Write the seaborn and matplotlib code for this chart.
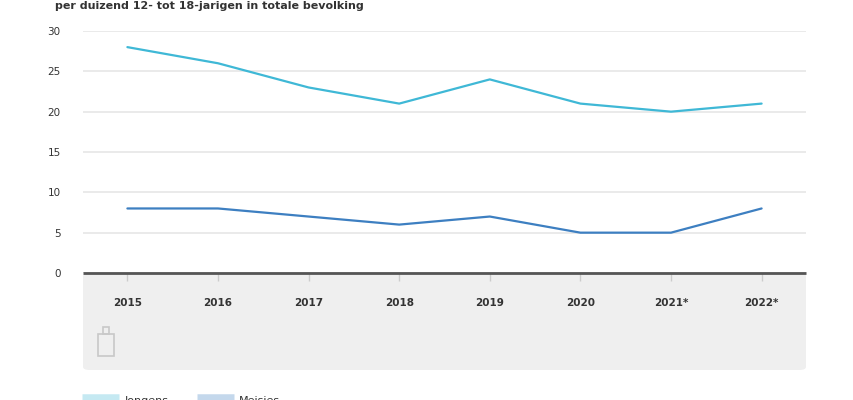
import matplotlib
matplotlib.use("Agg")
import matplotlib.pyplot as plt
from matplotlib.patches import FancyBboxPatch, Rectangle
from matplotlib.lines import Line2D
import seaborn as sns
import pandas as pd

years = ["2015", "2016", "2017", "2018", "2019", "2020", "2021*", "2022*"]
jongens = [28, 26, 23, 21, 24, 21, 20, 21]
meisjes = [8, 8, 7, 6, 7, 5, 5, 8]
series_names = ["Jongens", "Meisjes"]
title = "per duizend 12- tot 18-jarigen in totale bevolking"
yticks = [0, 5, 10, 15, 20, 25, 30]

df = pd.DataFrame({
    "jaar": years * 2,
    "waarde": jongens + meisjes,
    "groep": [series_names[0]] * len(years) + [series_names[1]] * len(years),
})

sns.set_theme(style="white")
plt.rcParams["font.family"] = ["DejaVu Sans"]

W, H = 854, 400
fig = plt.figure(figsize=(W / 100, H / 100), dpi=100)
fig.patch.set_facecolor("white")

ax_l, ax_r, ax_b, ax_t = 83, 806, 273, 31
ax = fig.add_axes([ax_l / W, 1 - ax_b / H, (ax_r - ax_l) / W, (ax_b - ax_t) / H])
ax.set_zorder(2)

# grey box below axis
box = FancyBboxPatch((ax_l / W, 1 - 370 / H), (ax_r - ax_l) / W, (370 - ax_b) / H,
                     boxstyle="round,pad=0,rounding_size=0.008",
                     transform=fig.transFigure, facecolor="#efefef", edgecolor="none", zorder=-5)
fig.patches.append(box)

palette = {"Jongens": "#3fb8d6", "Meisjes": "#3d7fc1"}
sns.lineplot(data=df, x="jaar", y="waarde", hue="groep", palette=palette,
             sort=False, linewidth=1.6, ax=ax, legend=False)

ax.set_xlim(-0.49, len(years) - 0.51)
ax.set_ylim(0, 30)
ax.set_yticks(yticks)
ax.set_yticklabels([str(v) for v in yticks], fontsize=7.5, color="#333333")
ax.set_xticks(range(len(years)))
ax.set_xticklabels(years, fontsize=7.5, color="#333333", fontweight="bold")
ax.tick_params(axis="x", length=6, width=1, color="#cccccc", pad=12, direction="out",
               bottom=True)
ax.tick_params(axis="y", length=0, pad=16)
for lab in ax.get_yticklabels():
    lab.set_horizontalalignment("right")
ax.set_xlabel("")
ax.set_ylabel("")
ax.grid(axis="y", color="#e6e6e6", linewidth=1.2)
ax.set_axisbelow(True)
for s in ["top", "right", "left"]:
    ax.spines[s].set_visible(False)
ax.spines["bottom"].set_color("#555555")
ax.spines["bottom"].set_linewidth(2)
ax.spines["bottom"].set_capstyle("butt")
ax.patch.set_alpha(0)

# title
fig.text(55 / W, 1 - 6 / H, title, fontsize=8, color="#333333", fontweight="semibold",
         ha="left", va="center")

# small logo approximation
logo_color = "#c8c8c8"
for (x, y, w, h) in [(98, 334, 16, 22), (103, 327, 6, 7)]:
    fig.patches.append(Rectangle((x / W, 1 - (y + h) / H), w / W, h / H,
                                 transform=fig.transFigure, facecolor="none",
                                 edgecolor=logo_color, linewidth=1.2, zorder=-1))

# legend (partly cut off at bottom, as in the reference)
handles = [Line2D([0], [0], color=palette[n], linewidth=9, alpha=0.3,
                  solid_capstyle="butt") for n in series_names]
fig.legend(handles, series_names, loc="center left", bbox_to_anchor=(72 / W, -0.003),
           frameon=False, ncol=2, fontsize=8, handlelength=3.3, handletextpad=0.5,
           columnspacing=2.6, labelcolor="#333333")

fig.savefig("out.png", dpi=100)
